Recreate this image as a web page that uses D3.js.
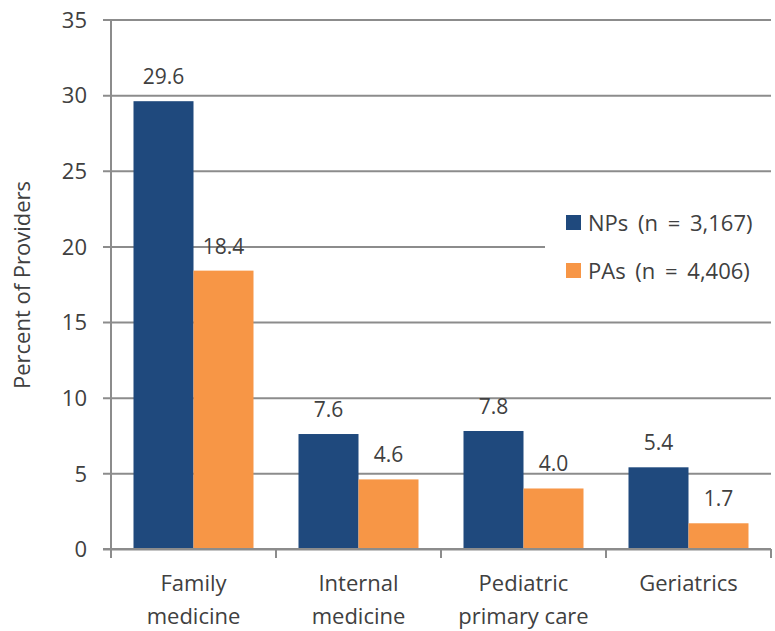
<!DOCTYPE html>
<html>
<head>
<meta charset="utf-8">
<script src="https://cdn.jsdelivr.net/npm/d3@7"></script>
<style>
  html, body { margin: 0; padding: 0; background: #fff; }
  svg text { font-family: "Open Sans", "DejaVu Sans", sans-serif; fill: #404040; }
</style>
</head>
<body>
<svg id="chart" width="775" height="631"></svg>
<script>
// Specialty categories (two-line labels) and the share of each provider group
const categories = ["Family medicine", "Internal medicine", "Pediatric primary care", "Geriatrics"];
const categoryLines = [["Family", "medicine"], ["Internal", "medicine"], ["Pediatric", "primary care"], ["Geriatrics"]];
const seriesNames = ["NPs (n = 3,167)", "PAs (n = 4,406)"];
const npValues = [29.6, 7.6, 7.8, 5.4];
const paValues = [18.4, 4.6, 4.0, 1.7];
const yTicks = [0, 5, 10, 15, 20, 25, 30, 35];
const colors = ["#1f497d", "#f79646"];

const svg = d3.select("#chart");
const plotLeft = 111, plotRight = 771, plotTop = 19.5, plotBottom = 549;
const gridColor = "#8c8c8c";
const fontSize = "22px";

const x0 = d3.scaleBand().domain(categories).range([plotLeft, plotRight]).padding(0);
const x1 = d3.scaleBand().domain(seriesNames).range([0, x0.bandwidth()])
  .paddingInner(0).paddingOuter(0.375);
const y = d3.scaleLinear().domain([0, 35]).range([plotBottom, plotTop]);

// Horizontal gridlines with short ticks left of the axis
const yAxis = d3.axisLeft(y).tickValues(yTicks).tickSize(-(plotRight - plotLeft)).tickPadding(24)
  .tickFormat(d3.format("d"));
const gy = svg.append("g").attr("transform", `translate(${plotLeft},0)`).call(yAxis);
gy.select(".domain").remove();
gy.selectAll(".tick line").attr("x1", -8).attr("stroke", gridColor).attr("stroke-width", 2);
gy.selectAll(".tick text").style("font-size", fontSize).attr("fill", "#404040").attr("dy", "0.35em");

// Vertical axis line
svg.append("line").attr("x1", plotLeft).attr("x2", plotLeft).attr("y1", plotTop).attr("y2", plotBottom)
  .attr("stroke", gridColor).attr("stroke-width", 2);

// Category separators below the baseline
const sepX = [plotLeft].concat(categories.map(c => x0(c) + x0.bandwidth()));
svg.append("g").selectAll("line").data(sepX).join("line")
  .attr("x1", d => d).attr("x2", d => d).attr("y1", plotBottom).attr("y2", plotBottom + 9)
  .attr("stroke", gridColor).attr("stroke-width", 2);

// Bars
const seriesData = [npValues, paValues];
const groups = svg.append("g").selectAll("g").data(seriesNames).join("g")
  .attr("fill", (d, i) => colors[i]);
groups.each(function (name, si) {
  const g = d3.select(this);
  g.selectAll("rect").data(categories).join("rect")
    .attr("x", c => x0(c) + x1(name))
    .attr("width", x1.bandwidth())
    .attr("y", (c, ci) => y(seriesData[si][ci]))
    .attr("height", (c, ci) => plotBottom - y(seriesData[si][ci]));
  g.selectAll("text").data(categories).join("text")
    .attr("x", c => x0(c) + x1(name) + x1.bandwidth() / 2)
    .attr("y", (c, ci) => y(seriesData[si][ci]) - 17)
    .attr("text-anchor", "middle")
    .style("font-size", "21px")
    .text((c, ci) => seriesData[si][ci].toFixed(1));
});

// Baseline on top of bars
svg.append("line").attr("x1", plotLeft - 8).attr("x2", plotRight).attr("y1", plotBottom).attr("y2", plotBottom)
  .attr("stroke", gridColor).attr("stroke-width", 2);

// Category labels
categories.forEach((c, i) => {
  const cx = x0(c) + x0.bandwidth() / 2;
  const t = svg.append("text")
    .attr("x", cx)
    .attr("y", 591)
    .attr("text-anchor", "middle")
    .style("font-size", fontSize);
  categoryLines[i].forEach((line, li) => {
    t.append("tspan").attr("x", cx).attr("dy", li === 0 ? 0 : 33).text(line);
  });
});

// Y axis title
svg.append("text")
  .attr("transform", "translate(30,285) rotate(-90)")
  .attr("text-anchor", "middle")
  .style("font-size", fontSize)
  .text("Percent of Providers");

// Legend with white background
const legend = svg.append("g");
legend.append("rect").attr("x", 545).attr("y", 196).attr("width", 226).attr("height", 104).attr("fill", "#fff");
seriesNames.forEach((name, i) => {
  const ly = 215 + i * 48;
  legend.append("rect").attr("x", 566).attr("y", ly).attr("width", 15).attr("height", 15).attr("fill", colors[i]);
  legend.append("text").attr("x", 588).attr("y", ly + 8).attr("dy", "0.35em")
    .style("font-size", fontSize).style("word-spacing", "4px").text(name);
});
</script>
</body>
</html>
